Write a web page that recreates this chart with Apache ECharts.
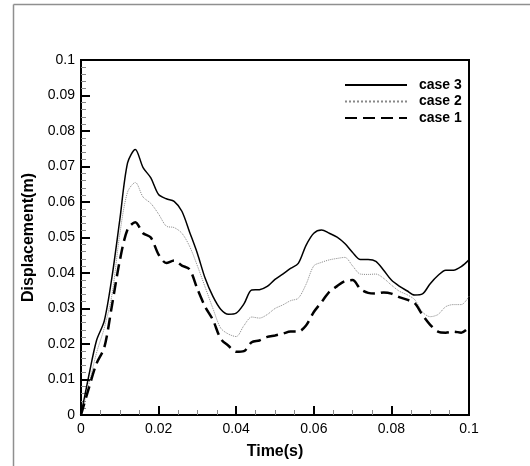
<!DOCTYPE html>
<html>
<head>
<meta charset="utf-8">
<script src="https://cdn.jsdelivr.net/npm/echarts@6/dist/echarts.min.js"></script>
<style>
html,body{margin:0;padding:0;background:#fff;}
#chart{width:530px;height:466px;}
</style>
</head>
<body>
<div id="chart"></div>
<script>
// Data
const time = [0, 0.002, 0.004, 0.006, 0.008, 0.010, 0.012, 0.014, 0.016, 0.018,
  0.020, 0.022, 0.024, 0.026, 0.028, 0.030, 0.032, 0.034, 0.036, 0.038,
  0.040, 0.042, 0.044, 0.046, 0.048, 0.050, 0.052, 0.054, 0.056, 0.058,
  0.060, 0.062, 0.064, 0.066, 0.068, 0.070, 0.072, 0.074, 0.076, 0.078,
  0.080, 0.082, 0.084, 0.086, 0.088, 0.090, 0.092, 0.094, 0.096, 0.098, 0.100];

const case3 = [0, 0.011, 0.021, 0.0265, 0.039, 0.055, 0.071, 0.0748, 0.0697, 0.0668,
  0.0621, 0.0609, 0.0602, 0.0574, 0.0515, 0.0455, 0.0385, 0.0334, 0.0298, 0.0284,
  0.0287, 0.0313, 0.0352, 0.0353, 0.0362, 0.0382, 0.0397, 0.0413, 0.0427, 0.0478,
  0.0512, 0.0521, 0.0512, 0.0501, 0.0483, 0.0458, 0.0438, 0.0438, 0.0433, 0.0408,
  0.0380, 0.0363, 0.0350, 0.0338, 0.0341, 0.0370, 0.0393, 0.0408, 0.0408, 0.0418, 0.0437];

const case2 = [0, 0.0085, 0.0175, 0.0245, 0.034, 0.051, 0.0628, 0.0655, 0.0614, 0.0596,
  0.0566, 0.0532, 0.0528, 0.0512, 0.0475, 0.0420, 0.0360, 0.0300, 0.0245, 0.0228,
  0.0221, 0.0252, 0.0276, 0.0273, 0.0283, 0.0300, 0.0310, 0.0322, 0.0329, 0.0368,
  0.0420, 0.0430, 0.0437, 0.0441, 0.0444, 0.0420, 0.0397, 0.0396, 0.0397, 0.0385,
  0.0366, 0.0349, 0.0339, 0.0325, 0.0290, 0.0277, 0.0283, 0.0305, 0.0311, 0.0311, 0.0334];

const case1 = [0, 0.0075, 0.0145, 0.019, 0.031, 0.0435, 0.0523, 0.0543, 0.0512, 0.0500,
  0.0452, 0.0428, 0.0435, 0.0421, 0.0410, 0.0355, 0.0305, 0.0268, 0.0215, 0.0195,
  0.0178, 0.0180, 0.0205, 0.0210, 0.0220, 0.0224, 0.0229, 0.0235, 0.0235, 0.0252,
  0.0290, 0.0318, 0.0347, 0.0363, 0.0377, 0.0380, 0.0355, 0.0344, 0.0342, 0.0345,
  0.0342, 0.0332, 0.0325, 0.0315, 0.0282, 0.0254, 0.0235, 0.0232, 0.0235, 0.0232, 0.0247];

const seriesNames = ['case 3', 'case 2', 'case 1'];
const xTicks = [0, 0.02, 0.04, 0.06, 0.08, 0.1];
const yTicks = [0, 0.01, 0.02, 0.03, 0.04, 0.05, 0.06, 0.07, 0.08, 0.09, 0.1];

function pairs(vals) { return time.map((t, i) => [t, vals[i]]); }

const FONT = '"Liberation Sans", Arial, sans-serif';
const chart = echarts.init(document.getElementById('chart'), null, {renderer: 'canvas'});

chart.setOption({
  animation: false,
  backgroundColor: '#fff',
  graphic: [
    {type: 'line', shape: {x1: 13.5, y1: 4.5, x2: 530, y2: 4.5}, style: {stroke: '#8f8f8f', lineWidth: 1.5}},
    {type: 'line', shape: {x1: 13.5, y1: 4.5, x2: 13.5, y2: 466}, style: {stroke: '#8f8f8f', lineWidth: 1.5}}
  ],
  grid: {left: 81, top: 60, right: 61, bottom: 51, show: true, borderColor: '#000', borderWidth: 2, containLabel: false},
  legend: {
    orient: 'vertical', left: 344, top: 78, padding: 0,
    itemWidth: 62, itemHeight: 14, itemGap: 2.5,
    data: seriesNames,
    itemStyle: {opacity: 0},
    textStyle: {fontFamily: FONT, fontSize: 14, fontWeight: 'bold', color: '#000', padding: [0, 0, 0, 7]}
  },
  xAxis: {
    type: 'value', min: xTicks[0], max: xTicks[xTicks.length - 1], interval: 0.02,
    name: 'Time(s)', nameLocation: 'middle', nameGap: 29,
    nameTextStyle: {fontFamily: FONT, fontSize: 16, fontWeight: 'bold', color: '#000'},
    axisLine: {lineStyle: {color: '#000', width: 2}},
    axisTick: {inside: true, length: 9, lineStyle: {color: '#000', width: 2}},
    minorTick: {show: true, splitNumber: 4, length: 5, lineStyle: {color: '#888', width: 1}},
    axisLabel: {fontFamily: FONT, fontSize: 14, color: '#000', margin: 7},
    splitLine: {show: false}
  },
  yAxis: {
    type: 'value', min: yTicks[0], max: yTicks[yTicks.length - 1], interval: 0.01,
    name: 'Displacement(m)', nameLocation: 'middle', nameGap: 36,
    nameTextStyle: {fontFamily: FONT, fontSize: 16, fontWeight: 'bold', color: '#000'},
    axisLine: {lineStyle: {color: '#000', width: 2}},
    axisTick: {inside: true, length: 9, lineStyle: {color: '#000', width: 2}},
    minorTick: {show: true, splitNumber: 5, length: 5, lineStyle: {color: '#888', width: 1}},
    axisLabel: {fontFamily: FONT, fontSize: 14, color: '#000', margin: 6},
    splitLine: {show: false}
  },
  series: [
    {name: seriesNames[0], type: 'line', data: pairs(case3), symbol: 'none', smooth: 0.3,
     lineStyle: {color: '#000', width: 1.5, type: 'solid'}, itemStyle: {color: '#000'}},
    {name: seriesNames[1], type: 'line', data: pairs(case2), symbol: 'none', smooth: 0.3,
     lineStyle: {color: '#888', width: 1, type: 'dotted'}, itemStyle: {color: '#888'}},
    {name: seriesNames[2], type: 'line', data: pairs(case1), symbol: 'none', smooth: 0.3,
     lineStyle: {color: '#000', width: 2.5, type: [12, 6]}, itemStyle: {color: '#000'}}
  ]
});
</script>
</body>
</html>
